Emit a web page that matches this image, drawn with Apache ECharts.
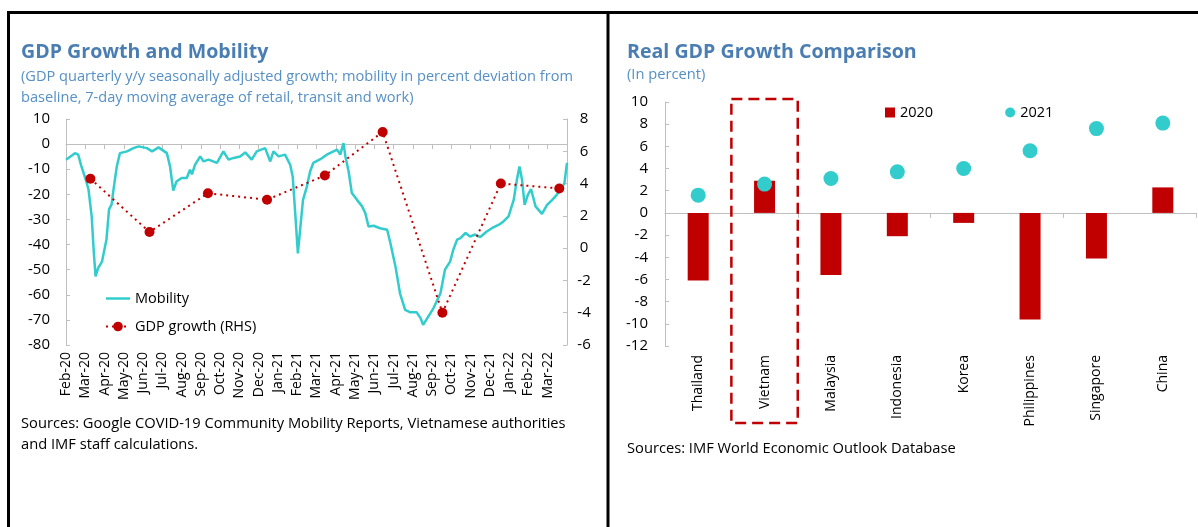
<!DOCTYPE html>
<html><head><meta charset="utf-8">
<script src="https://cdn.jsdelivr.net/npm/echarts@6/dist/echarts.min.js"></script>
<style>html,body{margin:0;padding:0;background:#fff}#c{width:1198px;height:527px}</style>
</head><body><div id="c"></div>
<script>
// ---------- Left chart data ----------
const monthLabels = ['Feb-20','Mar-20','Apr-20','May-20','Jun-20','Jul-20','Aug-20','Sep-20','Oct-20','Nov-20','Dec-20',
  'Jan-21','Feb-21','Mar-21','Apr-21','May-21','Jun-21','Jul-21','Aug-21','Sep-21','Oct-21','Nov-21','Dec-21',
  'Jan-22','Feb-22','Mar-22'];
const axisStart = '2020-02-15';
const axisEnd = '2022-04-05';
// mobility: days since 15 Feb 2020, percent deviation from baseline
const mobilityDays = [0,14,19,24,30,35,40,43,46,50,56,63,67,71,74,79,84,95,105,113,126,134,144,157,162,167,172,180,188,193,196,201,209,214,222,235,245,253,261,271,279,289,297,310,313,318,323,331,341,349,353,357,361,365,369,375,380,385,396,406,422,427,432,435,440,445,453,461,466,471,479,489,500,505,513,520,528,536,546,552,556,559,564,572,583,590,598,603,609,614,622,629,637,645,655,663,674,681,689,697,702,706,710,714,719,724,731,741,749,757,764,772,776,780];
const mobilityValues = [-6.2,-3.6,-4.2,-8.9,-13.5,-18,-28.8,-42,-52.7,-49.4,-46.8,-38,-26,-24,-18,-9,-3.6,-2.9,-1.6,-0.9,-1.6,-2.9,-1.3,-3.6,-8.9,-18.5,-14.9,-13.5,-13.5,-10.2,-12,-8.2,-4.9,-6.9,-6.2,-7.5,-2.9,-6.2,-5.5,-4.9,-3.3,-6.2,-2.9,-1.6,-0.9,-6.9,-2.9,-4.9,-4.2,-8.2,-13,-28,-43.5,-32.8,-22.2,-16.9,-10.9,-7.5,-6,-4.2,-2.2,-4.2,0.4,-4.9,-10.9,-19.5,-22.2,-24.8,-27.5,-32.8,-32.5,-33.5,-34.1,-39.4,-48.8,-59.4,-66,-67,-67,-69.3,-72,-72.7,-68.7,-65.4,-59.4,-50,-46.8,-42,-38,-37.4,-35.4,-36.8,-36,-37,-34.8,-33.5,-32.1,-30.8,-28.8,-22.2,-14.2,-8.9,-14.2,-24.2,-20.2,-17.9,-24.8,-27.8,-24.2,-22.2,-20.2,-17.5,-15.5,-7.5];
const gdpDates = ['2020-03-24','2020-06-24','2020-09-23','2020-12-24','2021-03-24','2021-06-22','2021-09-23','2021-12-23','2022-03-24'];
const gdpGrowth = [4.3, 1.0, 3.4, 3.0, 4.5, 7.2, -4.0, 4.0, 3.7];
const mobilityTicks = {min: -80, max: 10, interval: 10};
const gdpTicks = {min: -6, max: 8, interval: 2};

// ---------- Right chart data ----------
const countries = ['Thailand','Vietnam','Malaysia','Indonesia','Korea','Philippines','Singapore','China'];
const growth2020 = [-6.1, 2.9, -5.6, -2.1, -0.9, -9.6, -4.1, 2.3];
const growth2021 = [1.6, 2.6, 3.1, 3.7, 4.0, 5.6, 7.6, 8.1];
const compareTicks = {min: -12, max: 10, interval: 2};
const highlighted = 'Vietnam';

// ---------- styles ----------
const FONT = "'Open Sans','Noto Sans',sans-serif";
const RED = '#C00000', CYAN = '#33CCCC', AXIS = '#BFBFBF';
const TITLE = '#4A7EB3', SUB = '#5690C6';
const DAY = 86400000;
const t0 = Date.parse(axisStart);

const mobilityData = mobilityDays.map((d, i) => [t0 + d * DAY, mobilityValues[i]]);
const gdpData = gdpDates.map((d, i) => [Date.parse(d), gdpGrowth[i]]);

const lbl = {color: '#000', fontSize: 15, fontFamily: FONT};
function txt(id, x, y, text, size, color, weight) {
  return {type: 'text', id: id, x: x, y: y, silent: true,
    style: {text: text, fill: color, font: (weight || 'normal') + ' ' + size + 'px ' + FONT, verticalAlign: 'middle', textVerticalAlign: 'middle'}};
}
function ln(id, x1, y1, x2, y2) {
  return {type: 'line', id: id, silent: true, shape: {x1, y1, x2, y2}, style: {stroke: '#000', lineWidth: 3}};
}

const option = {
  animation: false,
  backgroundColor: '#fff',
  textStyle: {fontFamily: FONT},
  grid: [
    {left: 66, top: 119, width: 501, height: 226},
    {left: 665, top: 102, width: 531, height: 244}
  ],
  xAxis: [
    {type: 'category', gridIndex: 0, data: monthLabels.concat(['']), boundaryGap: false, position: 'bottom',
      axisLine: {show: false, onZero: false}, axisTick: {show: false},
      axisLabel: {interval: 0, rotate: 90, margin: 7, color: '#000', fontSize: 14, fontFamily: FONT}},
    {type: 'category', gridIndex: 0, data: monthLabels.concat(['']), boundaryGap: false,
      axisLine: {show: true, onZero: true, onZeroAxisIndex: 0, lineStyle: {color: AXIS, width: 1}},
      axisTick: {show: true, inside: true, length: 5, interval: 0, lineStyle: {color: AXIS}},
      axisLabel: {show: false}},
    {type: 'time', gridIndex: 0, show: false, min: Date.parse(axisStart), max: Date.parse(axisEnd)},
    {type: 'category', gridIndex: 1, data: countries, position: 'bottom',
      axisLine: {show: false, onZero: false}, axisTick: {show: false},
      axisLabel: {interval: 0, rotate: 90, margin: 9, color: '#000', fontSize: 14, fontFamily: FONT}},
    {type: 'category', gridIndex: 1, data: countries,
      axisLine: {show: true, onZero: true, onZeroAxisIndex: 2, lineStyle: {color: AXIS, width: 1}},
      axisTick: {show: true, inside: true, length: 5, lineStyle: {color: AXIS}},
      axisLabel: {show: false}}
  ],
  yAxis: [
    {type: 'value', gridIndex: 0, position: 'left', min: mobilityTicks.min, max: mobilityTicks.max, interval: mobilityTicks.interval,
      axisLine: {show: true, onZero: false, lineStyle: {color: AXIS}}, axisTick: {show: true, inside: true, length: 4, lineStyle: {color: AXIS}},
      splitLine: {show: false}, axisLabel: Object.assign({margin: 16}, lbl)},
    {type: 'value', gridIndex: 0, position: 'right', min: gdpTicks.min, max: gdpTicks.max, interval: gdpTicks.interval,
      axisLine: {show: true, onZero: false, lineStyle: {color: AXIS}}, axisTick: {show: true, inside: true, length: 4, lineStyle: {color: AXIS}},
      splitLine: {show: false}, axisLabel: Object.assign({margin: 17, align: 'center'}, lbl)},
    {type: 'value', gridIndex: 1, position: 'left', min: compareTicks.min, max: compareTicks.max, interval: compareTicks.interval,
      axisLine: {show: true, onZero: false, lineStyle: {color: AXIS}}, axisTick: {show: true, inside: true, length: 4, lineStyle: {color: AXIS}},
      splitLine: {show: false}, axisLabel: Object.assign({margin: 17}, lbl)}
  ],
  legend: [
    {orient: 'vertical', left: 100, top: 286, itemWidth: 24, itemHeight: 12, itemGap: 13,
      data: [{name: 'Mobility', icon: 'path://M0,0H24V2.5H0Z'}, 'GDP growth (RHS)'],
      textStyle: {color: '#000', fontSize: 14.5, fontFamily: FONT}},
    {orient: 'horizontal', left: 880, top: 100, itemWidth: 10, itemHeight: 10, itemGap: 72,
      data: [{name: '2020', icon: 'rect'}, {name: '2021', icon: 'circle'}],
      textStyle: {color: '#000', fontSize: 14.5, fontFamily: FONT}}
  ],
  series: [
    {name: 'Mobility', type: 'line', xAxisIndex: 2, yAxisIndex: 0, data: mobilityData,
      symbol: 'none', lineStyle: {color: CYAN, width: 2.5}, itemStyle: {color: CYAN}, z: 2},
    {name: 'GDP growth (RHS)', type: 'line', xAxisIndex: 2, yAxisIndex: 1, data: gdpData,
      symbol: 'circle', symbolSize: 10, showAllSymbol: true,
      lineStyle: {color: RED, width: 2, type: [2, 4]}, itemStyle: {color: RED}, z: 3},
    {name: '2020', type: 'bar', xAxisIndex: 3, yAxisIndex: 2, data: growth2020, barWidth: 21,
      itemStyle: {color: RED}},
    {name: '2021', type: 'scatter', xAxisIndex: 3, yAxisIndex: 2, data: growth2021, symbolSize: 15,
      itemStyle: {color: CYAN, opacity: 1}, z: 3}
  ],
  graphic: [
    ln('bTop', 7, 12.5, 1198, 12.5),
    ln('bLeft', 8.5, 11, 8.5, 527),
    ln('bMid', 608, 11, 608, 527),
    txt('t1', 21, 52, 'GDP Growth and Mobility', 19.6, TITLE, 'bold'),
    txt('s1a', 21, 77, '(GDP quarterly y/y seasonally adjusted growth; mobility in percent deviation from', 14.6, SUB),
    txt('s1b', 21, 98, 'baseline, 7-day moving average of retail, transit and work)', 14.6, SUB),
    txt('src1a', 21, 424, 'Sources: Google COVID-19 Community Mobility Reports, Vietnamese authorities', 14.7, '#000'),
    txt('src1b', 21, 445, 'and IMF staff calculations.', 14.7, '#000'),
    txt('t2', 627, 52, 'Real GDP Growth Comparison', 19.6, TITLE, 'bold'),
    txt('s2', 627, 75, '(In percent)', 14.7, SUB),
    txt('src2', 627, 449, 'Sources: IMF World Economic Outlook Database', 14.7, '#000')
  ]
};

const chart = echarts.init(document.getElementById('c'), null, {renderer: 'canvas'});
chart.setOption(option);

// dashed highlight box around the highlighted country category
const xa = chart.convertToPixel({xAxisIndex: 3}, countries[0]);
const xb = chart.convertToPixel({xAxisIndex: 3}, countries[1]);
const band = xb - xa;
const xc = chart.convertToPixel({xAxisIndex: 3}, highlighted);
const yTop = chart.convertToPixel({yAxisIndex: 2}, compareTicks.max) - 3;
chart.setOption({graphic: [{
  type: 'rect', id: 'vnBox', silent: true, z: 10,
  shape: {x: xc - band / 2, y: yTop, width: band, height: 423 - yTop},
  style: {fill: 'none', stroke: RED, lineWidth: 2.5, lineDash: [11, 6]}
}]});
</script></body></html>
